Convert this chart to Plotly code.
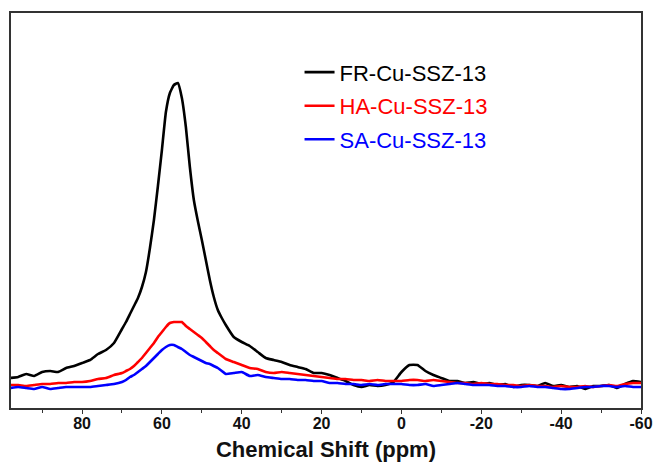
import plotly.graph_objects as go

# Chemical shift grid (ppm), descending
shift_ppm = [
    98, 96, 94, 92, 90, 88, 86, 84, 82, 80, 78, 76, 74, 72,
    70, 69, 68, 67, 66, 65, 64, 63, 62, 61, 60, 59, 58, 57, 56, 55,
    54, 53, 52, 51, 50, 49, 48, 47, 46, 45, 44,
    42, 40, 38, 36, 34, 32, 30, 28, 26, 24, 22, 20, 18, 16, 14, 12,
    10, 8, 6, 4, 2, 0, -2, -4, -6, -8, -10, -12, -14, -16, -18, -20,
    -22, -24, -26, -28, -30, -32, -34, -36, -38, -40, -42, -44, -46,
    -48, -50, -52, -54, -56, -58, -60,
]

# Intensities (a.u.)
fr_cu = [
    30, 31, 34, 32, 36, 37, 36, 40, 42, 45, 48, 54, 58, 65,
    79, 86, 94, 102, 110, 121, 136, 160, 188, 222, 258, 296, 315, 323, 325, 310,
    281, 241, 208, 187, 168, 148, 128, 111, 98, 90, 83,
    71, 66, 62, 56, 50, 48, 46, 43, 41, 39, 35, 35, 33, 30, 27, 23,
    21, 23, 22, 23, 26, 36, 43, 43, 37, 33, 30, 27, 27, 25, 26, 24,
    25, 23, 24, 21, 23, 23, 22, 25, 22, 23, 21, 22, 19,
    22, 22, 23, 20, 24, 27, 26,
]
ha_cu = [
    23, 23, 22, 23, 24, 24, 25, 25, 26, 26, 27, 29, 30, 33,
    35, 37, 39, 42, 46, 50, 55, 60, 65, 71, 76, 81, 85, 86, 86, 86,
    82, 79, 76, 73, 70, 66, 62, 58, 55, 52, 49,
    46, 43, 40, 39, 36, 35, 36, 35, 34, 33, 32, 31, 30, 29, 29, 28,
    28, 27, 28, 27, 27, 27, 28, 28, 27, 28, 27, 26, 25, 25, 24, 25,
    24, 24, 23, 23, 22, 23, 22, 22, 21, 22, 21, 21, 22,
    21, 22, 23, 22, 24, 25, 25,
]
sa_cu = [
    20, 21, 20, 19, 21, 19, 20, 21, 21, 21, 21, 22, 23, 24,
    26, 28, 31, 33, 36, 39, 42, 46, 50, 54, 58, 61, 63, 63, 61, 59,
    56, 53, 51, 49, 47, 45, 44, 42, 40, 37, 34,
    35, 36, 32, 33, 31, 30, 29, 29, 28, 28, 27, 27, 25, 25, 24, 24,
    23, 24, 23, 24, 24, 24, 23, 23, 24, 22, 23, 24, 25, 24, 23, 23,
    23, 22, 22, 21, 21, 22, 21, 21, 20, 19, 19, 20, 21,
    21, 22, 22, 21, 22, 21, 21,
]

# Axis tick positions and labels
x_tickvals = [80, 60, 40, 20, 0, -20, -40, -60]
x_ticktext = ["80", "60", "40", "20", "0", "-20", "-40", "-60"]

series = [
    ("FR-Cu-SSZ-13", fr_cu, "#000000"),
    ("HA-Cu-SSZ-13", ha_cu, "#ff0000"),
    ("SA-Cu-SSZ-13", sa_cu, "#0000ff"),
]

FONT = "Liberation Sans, Arial, sans-serif"

fig = go.Figure()
for i, (name, vals, color) in enumerate(series):
    fig.add_trace(go.Scatter(
        x=shift_ppm, y=vals, mode="lines",
        name=f'<span style="color:{color}">{name}</span>',
        legendgroup=f"g{i}",
        line=dict(color=color, width=2.6, shape="spline", smoothing=0.4),
    ))

fig.update_layout(
    width=654, height=462,
    margin=dict(l=11, r=13, t=13, b=54),
    paper_bgcolor="white", plot_bgcolor="white",
    showlegend=True,
    legend=dict(
        x=0.458, y=0.903, xanchor="left", yanchor="top",
        bgcolor="rgba(0,0,0,0)", borderwidth=0,
        font=dict(family=FONT, size=22, color="#000"),
        tracegroupgap=2, itemwidth=30,
    ),
    xaxis=dict(
        range=[97.8, -60], automargin=False,
        tickmode="array", tickvals=x_tickvals, ticktext=x_ticktext,
        ticks="outside", ticklen=4, tickwidth=1.2, tickcolor="#333",
        ticklabelstandoff=-4,
        minor=dict(tickmode="linear", tick0=10, dtick=20, ticks="outside",
                   ticklen=3, tickwidth=1.2, tickcolor="#333"),
        showline=True, linecolor="#333", linewidth=1.5, mirror=True,
        showgrid=False, zeroline=False,
        tickfont=dict(family=FONT, size=16, color="#111", weight="bold"),
        title=dict(text="Chemical Shift (ppm)", standoff=11,
                   font=dict(family=FONT, size=22, color="#111", weight="bold")),
    ),
    yaxis=dict(
        range=[0, 395], automargin=False,
        showticklabels=False, ticks="",
        showline=True, linecolor="#333", linewidth=1.5, mirror=True,
        showgrid=False, zeroline=False,
    ),
)

fig.write_html("out.html")
